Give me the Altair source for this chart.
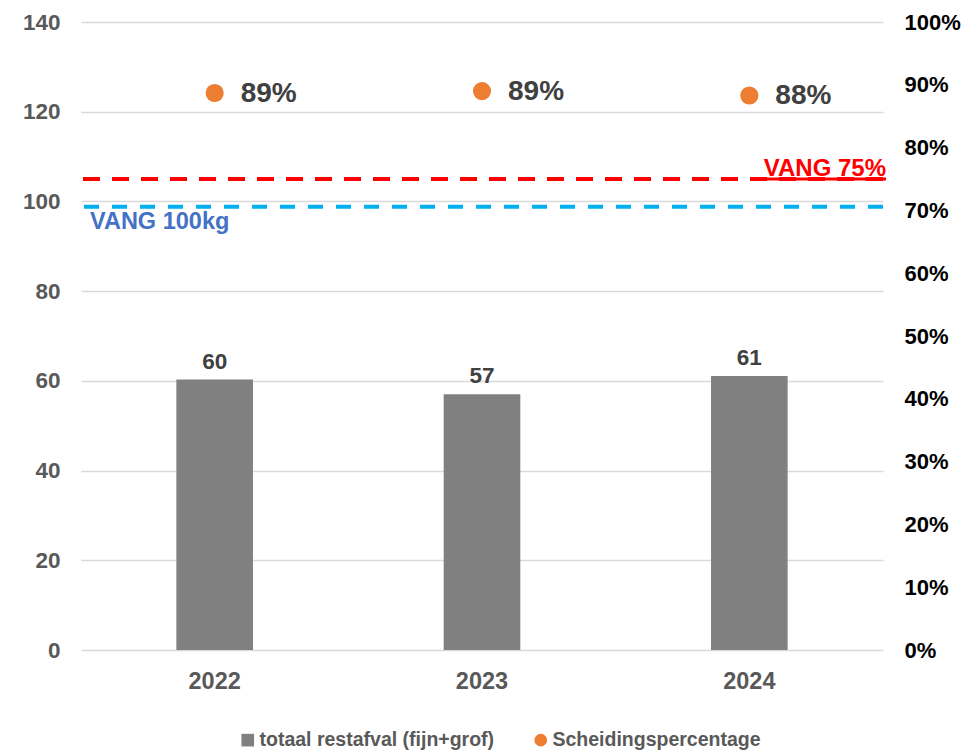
import altair as alt
import pandas as pd

# ---- data ----
years = ["2022", "2023", "2024"]
restafval = [60.3, 57.0, 61.1]            # kg (left axis)
scheiding = [0.887, 0.890, 0.883]         # fraction (right axis)
series_names = ["totaal restafval (fijn+grof)", "Scheidingspercentage"]
series_colors = ["#808080", "#ED7D31"]
series_shapes = ["square", "circle"]
vang_kg_value = [98.8]
vang_kg_label = ["VANG 100kg"]
vang_pct_value = [0.75]
vang_pct_label = ["VANG 75%"]
left_ticks = [0, 20, 40, 60, 80, 100, 120, 140]
right_ticks = [0, 0.1, 0.2, 0.3, 0.4, 0.5, 0.6, 0.7, 0.8, 0.9, 1.0]

FONT = "Liberation Sans"

bars_df = pd.DataFrame({"jaar": years, "waarde": restafval, "reeks": series_names[0]})
pct_df = pd.DataFrame({"jaar": years, "pct": scheiding, "reeks": series_names[1]})
kg_df = pd.DataFrame({"v": vang_kg_value, "label": vang_kg_label})
pc_df = pd.DataFrame({"v": vang_pct_value, "label": vang_pct_label})

left_scale = alt.Scale(domain=[0, 140], nice=False, zero=True)
right_scale = alt.Scale(domain=[0, 1], nice=False, zero=True)

x_enc = alt.X(
    "jaar:N",
    scale=alt.Scale(domain=years, paddingInner=0, paddingOuter=0),
    axis=alt.Axis(title=None, labelFontSize=23.5, labelColor="#595959",
                  labelFontWeight="bold", labelFont=FONT, domain=False,
                  ticks=False, labelPadding=19, labelAngle=0, grid=False),
)

legend_kw = dict(title=None, orient="none", legendX=157, legendY=708,
                 direction="horizontal", labelFontSize=19.5, labelColor="#595959",
                 labelFont=FONT, labelFontWeight="bold", symbolSize=160,
                 labelOffset=2, columnPadding=36, symbolStrokeWidth=0, labelLimit=0)

color_enc = alt.Color("reeks:N", scale=alt.Scale(domain=series_names, range=series_colors),
                      legend=alt.Legend(**legend_kw))
shape_enc = alt.Shape("reeks:N", scale=alt.Scale(domain=series_names, range=series_shapes),
                      legend=alt.Legend(**legend_kw))

bars = alt.Chart(bars_df).mark_bar(width=alt.RelativeBandSize(0.2866)).encode(
    x=x_enc,
    y=alt.Y("waarde:Q", scale=left_scale,
            axis=alt.Axis(orient="left", values=left_ticks, title=None, grid=True,
                          gridColor="#D9D9D9", gridWidth=1.5, domain=False, ticks=False,
                          labelFontSize=22.5, labelColor="#595959", labelFontWeight="bold",
                          labelFont=FONT, labelPadding=21)),
    color=color_enc,
)

bar_labels = alt.Chart(bars_df).mark_text(
    baseline="bottom", dy=-6, fontSize=22.5, fontWeight="bold", color="#404040", font=FONT
).encode(
    x=x_enc,
    y=alt.Y("waarde:Q", scale=left_scale, axis=None),
    text=alt.Text("waarde:Q", format=".0f"),
)

kg_rule = alt.Chart(kg_df).mark_rule(color="#00B0F0", strokeDash=[15, 13], strokeWidth=4).encode(
    y=alt.Y("v:Q", scale=left_scale, axis=None)
)
kg_text = alt.Chart(kg_df).mark_text(
    align="left", baseline="middle", dx=9, dy=15, fontSize=23.5, fontWeight="bold",
    color="#4472C4", font=FONT
).encode(
    x=alt.value(0),
    y=alt.Y("v:Q", scale=left_scale, axis=None),
    text="label:N",
)

points = alt.Chart(pct_df).mark_point(filled=True, opacity=1, size=330).encode(
    x=x_enc,
    y=alt.Y("pct:Q", scale=right_scale,
            axis=alt.Axis(orient="right", values=right_ticks, format=".0%", title=None,
                          grid=False, domain=False, ticks=False, labelFontSize=22,
                          labelColor="#000000", labelFontWeight="bold", labelFont=FONT,
                          labelPadding=21)),
    color=color_enc,
    shape=shape_enc,
)

point_labels = alt.Chart(pct_df).mark_text(
    align="left", baseline="middle", dx=26, dy=1, fontSize=28, fontWeight="bold",
    color="#404040", font=FONT
).encode(
    x=x_enc,
    y=alt.Y("pct:Q", scale=right_scale, axis=None),
    text=alt.Text("pct:Q", format=".0%"),
)

pc_rule = alt.Chart(pc_df).mark_rule(color="#FF0000", strokeDash=[17, 12], strokeWidth=4).encode(
    y=alt.Y("v:Q", scale=right_scale, axis=None)
)
pc_underline = alt.Chart(pc_df).mark_rule(color="#FF0000", strokeWidth=3).encode(
    x=alt.value(682), x2=alt.value(805),
    y=alt.Y("v:Q", scale=right_scale, axis=None),
)
pc_text = alt.Chart(pc_df).mark_text(
    align="right", baseline="alphabetic", dx=3, dy=-3, fontSize=24, fontWeight="bold",
    color="#FF0000", font=FONT
).encode(
    x=alt.value(802),
    y=alt.Y("v:Q", scale=right_scale, axis=None),
    text="label:N",
)

chart = alt.layer(
    bars, bar_labels, kg_rule, kg_text, points, point_labels, pc_rule, pc_underline, pc_text
).resolve_scale(
    y="independent"
).properties(
    width=802, height=628,
    padding={"left": 73, "top": 14, "right": 78, "bottom": 100},
    autosize=alt.AutoSizeParams(type="none"),
).configure(
    font=FONT
).configure_view(stroke=None)

chart.save("out.html", embed_options={"renderer": "svg", "actions": False})
